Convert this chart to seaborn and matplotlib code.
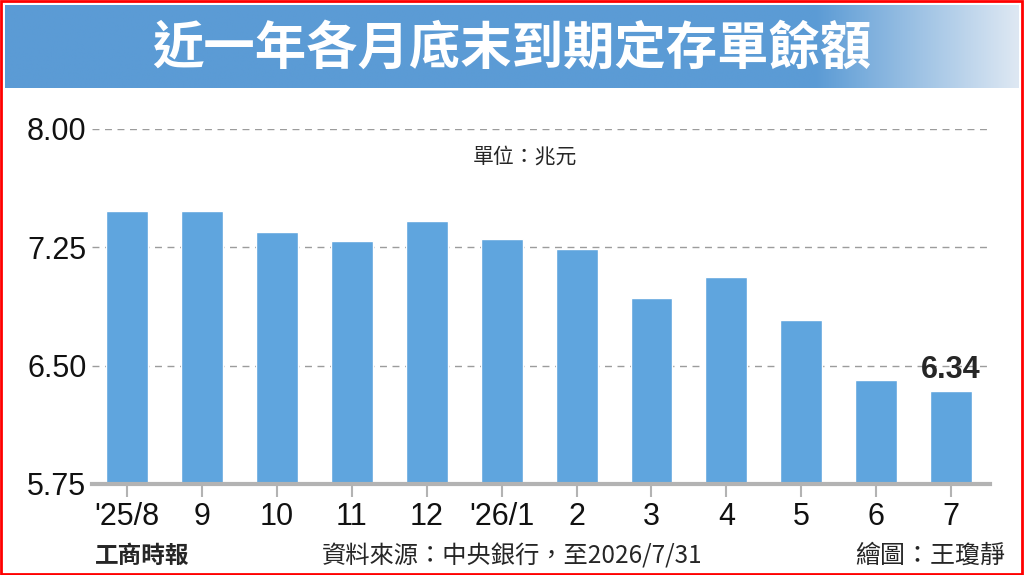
import numpy as np
import pandas as pd
import matplotlib
matplotlib.use("Agg")
import matplotlib.pyplot as plt
import seaborn as sns
from matplotlib.patches import Rectangle

# data (unit: trillion NTD)
months = ["'25/8", "9", "10", "11", "12", "'26/1", "2", "3", "4", "5", "6", "7"]
balances = [7.48, 7.48, 7.35, 7.29, 7.42, 7.30, 7.24, 6.93, 7.06, 6.79, 6.41, 6.34]
y_ticks = [5.75, 6.50, 7.25, 8.00]

title = "近一年各月底末到期定存單餘額"
unit = "單位：兆元"
source = "資料來源：中央銀行，至2026/7/31"
credit = "繪圖：王瓊靜"
brand = "工商時報"

BAR = "#5fa5de"
BANNER = np.array([91, 155, 213]) / 255
FADE = np.array([222, 232, 243]) / 255
GRID = "#9c9c9c"

sns.set_theme(style="white")
plt.rcParams["font.family"] = ["Liberation Sans", "Noto Sans CJK TC"]
cjk = ["Noto Sans CJK TC", "DejaVu Sans"]

fig = plt.figure(figsize=(10.24, 5.75), dpi=100)

# title banner with a fade towards the right edge
bax = fig.add_axes([5 / 1024, 1 - 88 / 575, 1014 / 1024, 83 / 575])
xs = np.linspace(0, 1, 400)
mix = np.clip((xs - 0.80) / 0.20, 0, 1)
grad = BANNER[None, :] * (1 - mix[:, None]) + FADE[None, :] * mix[:, None]
bax.imshow(grad[None, :, :], aspect="auto", extent=[0, 1, 0, 1])
bax.set_axis_off()
fig.text(0.5, 1 - 48 / 575, title, color="white", fontsize=37,
         fontweight="bold", family=cjk, ha="center", va="center")

# main bar chart
df = pd.DataFrame({"month": months, "balance": balances})
ax = fig.add_axes([92 / 1024, 91 / 575, 898 / 1024, 355 / 575])
sns.barplot(data=df, x="month", y="balance", color=BAR, saturation=1,
            width=0.56, ax=ax)
ax.set_ylim(y_ticks[0], y_ticks[-1])
ax.set_xlim(-0.47, 11.52)
ax.set_yticks(y_ticks)
ax.set_yticklabels([f"{v:.2f}" for v in y_ticks])
ax.set_xlabel("")
ax.set_ylabel("")
ax.set_axisbelow(True)
ax.yaxis.grid(True, linestyle=(0, (5, 4)), color=GRID, linewidth=1)
ax.xaxis.grid(False)
for side in ["left", "right", "top"]:
    ax.spines[side].set_visible(False)
ax.spines["bottom"].set_color("#b3b3b3")
ax.spines["bottom"].set_linewidth(3)
ax.tick_params(axis="x", bottom=True, length=9, width=1.5, color="#b3b3b3",
               pad=4, labelsize=22, labelcolor="#111111")
ax.tick_params(axis="y", left=False, length=0, pad=4, labelsize=22,
               labelcolor="#111111")

# highlight the latest value
ax.text(len(months) - 1, balances[-1] + 0.04, f"{balances[-1]:.2f}",
        ha="center", va="bottom", fontsize=22, fontweight="bold")

fig.text(525 / 1024, 1 - 157 / 575, unit, fontsize=15, family=cjk,
         ha="center", va="center")

# footer
fig.text(95 / 1024, 1 - 556 / 575, brand, fontsize=17, fontweight="bold",
         family=cjk, ha="left", va="center")
fig.text(512 / 1024, 1 - 556 / 575, source, fontsize=17.5, family=cjk,
         ha="center", va="center")
fig.text(1005 / 1024, 1 - 556 / 575, credit, fontsize=18, family=cjk,
         ha="right", va="center")

# red frame
fig.patches.append(Rectangle((0.001, 0.002), 0.997, 0.996,
                             transform=fig.transFigure, fill=False,
                             edgecolor="red", linewidth=2))

fig.savefig("out.png", dpi=100)
